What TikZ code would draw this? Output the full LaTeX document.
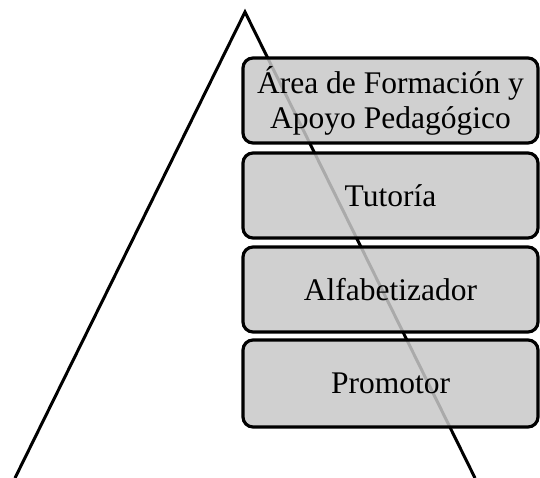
\documentclass[tikz,border=0pt]{standalone}
\usepackage{fontspec}
\setmainfont{Liberation Serif}
\usepackage{tikz}

\begin{document}
\begin{tikzpicture}[x=1pt,y=1pt]
    \tikzstyle{nivel}=[draw,line width=3.2pt,rounded corners=10pt,fill={rgb,255:red,200;green,200;blue,200},
        fill opacity=0.85,text opacity=1,minimum width=295pt,minimum height=85pt,align=center,
        inner sep=0pt,font=\fontsize{31.5}{35}\selectfont]
    \useasboundingbox (0,0) rectangle (540,478);
    % triangulo
    \coordinate (cima) at (245,466);
    \coordinate (izq) at (15,0);
    \coordinate (der) at (475,0);
    \draw[line width=3pt,line join=miter] (izq) -- (cima) -- (der);
    % niveles
    \node[nivel] (area) at (390.5,377.5) {Área de Formación y\\Apoyo Pedagógico};
    \node[nivel] (tutoria) at (390.5,282.5) {Tutoría};
    \node[nivel] (alfab) at (390.5,188.5) {Alfabetizador};
    \node[nivel,minimum height=87pt] (promotor) at (390.5,94.5) {Promotor};
\end{tikzpicture}
\end{document}
